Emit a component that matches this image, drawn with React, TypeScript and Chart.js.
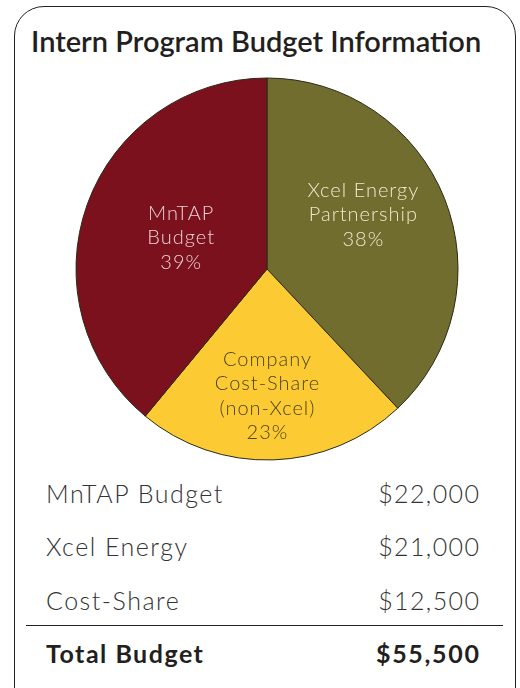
import React, { useEffect, useRef } from "react";
import { Chart, registerables } from "chart.js";

Chart.register(...registerables);

const sliceLabels = [
  ["Xcel Energy", "Partnership"],
  ["Company", "Cost-Share", "(non-Xcel)"],
  ["MnTAP", "Budget"],
];
const slicePercents = [38, 23, 39];
const sliceColors = ["#716d2f", "#fccb33", "#7a111c"];
const sliceTextColors = ["#ece9cf", "#4e4420", "#ecd0d3"];
const labelRadiusFrac = [0.576, 0.665, 0.48];
const labelAngleShift = [-7.8, 1.8, 0];

const tableRows = ["MnTAP Budget", "Xcel Energy", "Cost-Share"];
const tableValues = ["$22,000", "$21,000", "$12,500"];
const totalLabel = "Total Budget";
const totalValue = "$55,500";

const FONT = "Lato, 'Noto Sans', sans-serif";

const labelPlugin = {
  id: "sliceLabels",
  afterDatasetsDraw(chart: any) {
    const ctx = chart.ctx;
    const meta = chart.getDatasetMeta(0);
    const data = chart.data.datasets[0].data as number[];
    meta.data.forEach((arc: any, i: number) => {
      const p = arc.getProps(["x", "y", "startAngle", "endAngle", "outerRadius"], true);
      const mid = (p.startAngle + p.endAngle) / 2 + (labelAngleShift[i] * Math.PI) / 180;
      const r = p.outerRadius * labelRadiusFrac[i];
      const cx = p.x + Math.cos(mid) * r;
      const cy = p.y + Math.sin(mid) * r;
      const lines = [...sliceLabels[i], data[i] + "%"];
      const lh = 24.5;
      ctx.save();
      ctx.font = `300 20px ${FONT}`;
      (ctx as any).letterSpacing = "1px";
      ctx.fillStyle = sliceTextColors[i];
      ctx.textAlign = "center";
      ctx.textBaseline = "middle";
      const start = cy - ((lines.length - 1) * lh) / 2;
      lines.forEach((t, k) => ctx.fillText(t, cx + 0.5, start + k * lh));
      ctx.restore();
    });
  },
};

function Txt(props: { x?: number; right?: number; base: number; size: number; weight: number; color: string; ls?: number; children: any }) {
  const top = props.base - 0.887 * props.size;
  const ls = props.ls || 0;
  const style: any = {
    position: "absolute",
    top,
    fontFamily: FONT,
    fontSize: props.size,
    fontWeight: props.weight,
    lineHeight: 1,
    letterSpacing: ls,
    color: props.color,
    whiteSpace: "nowrap",
  };
  if (props.right !== undefined) style.right = props.right - ls;
  else style.left = props.x;
  return <div style={style}>{props.children}</div>;
}

export default function App() {
  const ref = useRef<HTMLCanvasElement>(null);
  useEffect(() => {
    const chart = new Chart(ref.current!, {
      type: "pie",
      data: {
        labels: sliceLabels.map((l) => l.join(" ")),
        datasets: [
          {
            data: slicePercents,
            backgroundColor: sliceColors,
            borderColor: "#2a2a1a",
            borderWidth: 1,
          },
        ],
      },
      options: {
        animation: false,
        responsive: false,
        radius: 191,
        layout: { padding: 0 },
        plugins: { legend: { display: false }, tooltip: { enabled: false } },
      } as any,
      plugins: [labelPlugin],
    });
    return () => chart.destroy();
  }, []);

  return (
    <div style={{ position: "absolute", left: 0, top: 0, width: 520, height: 688, overflow: "hidden", background: "#fff" }}>
      <div
        style={{
          position: "absolute",
          left: 14,
          top: 6,
          width: 500,
          height: 710,
          border: "1.5px solid #222",
          borderRadius: 30,
        }}
      />
      <Txt x={31} base={52} size={29} weight={600} color="#231f20">
        Intern Program Budget Information
      </Txt>
      <canvas ref={ref} width={400} height={400} style={{ position: "absolute", left: 67, top: 69, width: 400, height: 400 }} />
      {tableRows.map((r, i) => (
        <React.Fragment key={r}>
          <Txt x={46} base={503 + i * 53.5} size={25} weight={300} color="#333" ls={1.5}>
            {r}
          </Txt>
          <Txt right={520 - 479} base={503 + i * 53.5} size={25} weight={300} color="#333" ls={1.4}>
            {tableValues[i]}
          </Txt>
        </React.Fragment>
      ))}
      <div style={{ position: "absolute", left: 26, top: 625, width: 477, height: 1, background: "#222" }} />
      <Txt x={46} base={663} size={25} weight={700} color="#231f20" ls={1.5}>
        {totalLabel}
      </Txt>
      <Txt right={520 - 479} base={663} size={25} weight={700} color="#231f20" ls={1.7}>
        {totalValue}
      </Txt>
    </div>
  );
}
